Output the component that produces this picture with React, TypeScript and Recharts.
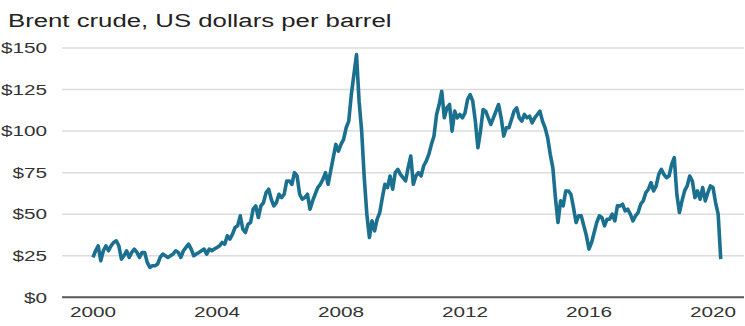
import { LineChart, Line, XAxis, YAxis, CartesianGrid } from 'recharts';

// monthly Brent price, US$ per barrel (Jan..Dec)
const p2000 = [24, 28, 31, 22, 28, 31, 28, 31, 33, 34, 31, 23];
const p2001 = [25, 28, 24, 27, 29, 27, 24, 27, 27, 21, 18, 19];
const p2002 = [19, 20, 24, 26, 25, 24, 25, 26, 28, 27, 24, 28];
const p2003 = [30, 32, 29, 25, 26, 27, 28, 29, 26, 29, 28, 29];
const p2004 = [30, 31, 33, 32, 37, 35, 38, 42, 43, 49, 41, 39];
const p2005 = [44, 45, 53, 55, 48, 55, 57, 63, 65, 59, 55, 57];
const p2006 = [62, 60, 62, 70, 70, 68, 75, 73, 62, 59, 60, 62];
const p2007 = [53, 58, 62, 66, 68, 71, 75, 68, 76, 84, 92, 88];
const p2008 = [92, 95, 102, 106, 122, 134, 146, 118, 100, 72, 50, 36];
const p2009 = [46, 40, 47, 51, 60, 68, 66, 73, 65, 75, 77, 74];
const p2010 = [72, 70, 78, 85, 68, 73, 75, 73, 79, 82, 86, 92];
const p2011 = [97, 110, 116, 124, 108, 114, 116, 100, 112, 108, 110, 108];
const p2012 = [111, 119, 122, 118, 106, 90, 100, 113, 112, 108, 104, 108];
const p2013 = [112, 116, 108, 97, 102, 102, 107, 112, 114, 108, 106, 110];
const p2014 = [108, 109, 105, 108, 110, 112, 106, 102, 96, 86, 78, 60];
const p2015 = [45, 58, 55, 64, 64, 62, 54, 45, 49, 49, 43, 37];
const p2016 = [29, 33, 39, 45, 49, 48, 43, 47, 47, 50, 46, 55];
const p2017 = [55, 56, 52, 53, 50, 46, 49, 51, 56, 58, 63, 65];
const p2018 = [69, 64, 67, 74, 77, 74, 72, 73, 80, 84, 62, 51];
const p2019 = [58, 64, 67, 73, 70, 60, 64, 59, 66, 58, 63, 67];
const p2020 = [66, 57, 50, 23];

const YEARS = [p2000, p2001, p2002, p2003, p2004, p2005, p2006, p2007, p2008, p2009, p2010,
  p2011, p2012, p2013, p2014, p2015, p2016, p2017, p2018, p2019, p2020];
const X_TICKS = [2000, 2004, 2008, 2012, 2016, 2020];
const Y_TICKS = [0, 25, 50, 75, 100, 125, 150];
const TITLE = 'Brent crude, US dollars per barrel';

const FONT = '"Liberation Sans", Arial, Helvetica, sans-serif';
const STRETCH = 1.43; // the reference text is drawn wide
const LINE_COLOR = '#1b6f8f';

const data = YEARS.flatMap((months, i) =>
  months.map((price, m) => ({ t: 2000 + i + m / 12, price }))
);

const YTick = ({ x, y, payload }: any) => (
  <g transform={`translate(${x - 7},${y + 5.2})`}>
    <text transform={`scale(${STRETCH},1)`} textAnchor="end" fontSize={14.5} fill="#333" fontFamily={FONT}>
      ${payload.value}
    </text>
  </g>
);

const XTick = ({ x, payload }: any) => (
  <g transform={`translate(${x},316.5)`}>
    <text transform={`scale(${STRETCH},1)`} textAnchor="middle" fontSize={14.5} fill="#333" fontFamily={FONT}>
      {payload.value}
    </text>
  </g>
);

export default function App() {
  return (
    <div style={{ position: 'absolute', left: 0, top: 0, width: 745, height: 326, background: '#fff' }}>
      <div
        style={{
          position: 'absolute',
          left: 8,
          top: 11.5,
          fontFamily: FONT,
          fontSize: 18,
          lineHeight: '18px',
          color: '#222',
          whiteSpace: 'nowrap',
          transform: `scaleX(${STRETCH})`,
          transformOrigin: 'left top',
        }}
      >
        {TITLE}
      </div>
      <LineChart width={745} height={326} data={data} margin={{ top: 48, right: 1, bottom: 0, left: 0 }}>
        <CartesianGrid horizontal vertical={false} stroke="#dcdcdc" strokeWidth={1.5} />
        <XAxis
          dataKey="t"
          type="number"
          domain={[1999, 2021]}
          ticks={X_TICKS}
          tick={<XTick />}
          tickLine={false}
          axisLine={{ stroke: '#5a5a5a', strokeWidth: 2 }}
          height={28.7}
          interval={0}
        />
        <YAxis
          type="number"
          domain={[0, 150]}
          ticks={Y_TICKS}
          tick={<YTick />}
          tickLine={false}
          axisLine={false}
          width={62}
          interval={0}
        />
        <Line
          type="linear"
          dataKey="price"
          stroke={LINE_COLOR}
          strokeWidth={3.6}
          strokeLinejoin="round"
          dot={false}
          isAnimationActive={false}
        />
      </LineChart>
    </div>
  );
}
